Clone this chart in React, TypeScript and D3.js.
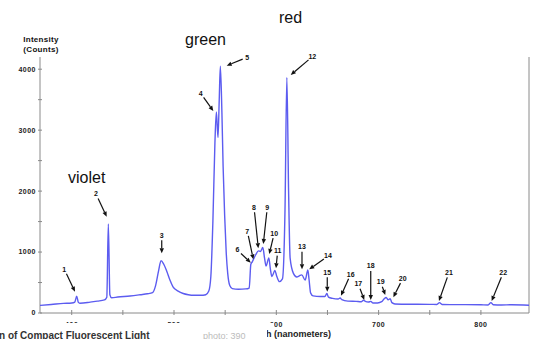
import React from 'react';
import * as d3 from 'd3';

// spectrum (nm, counts)
const wavelength = [
  369, 380, 392, 400, 403, 404.9, 406.5, 408, 418, 425, 432, 434.3, 435.8, 437.3, 439, 445, 457, 467, 474,
  479, 482, 485, 487.3, 490, 493, 496, 499, 504, 509, 514, 519, 526, 531, 534, 536, 538, 540, 541.4, 543,
  544.2, 545.3, 546.8, 548, 549.5, 551, 552.5, 554.5, 557, 563, 570, 573.5, 575.1, 576.5, 578.2, 580, 582.5,
  584.5, 586.8, 588.5, 590, 592.7, 594.2, 595.6, 597, 598.5, 600.5, 603, 606, 608.5, 610.3, 612, 613.5,
  616.7, 620, 622.5, 624.9, 628.2, 630.8, 632, 633.5, 636, 643, 647.5, 649.4, 651, 655, 660.4, 662.4, 664,
  670, 678, 683, 685.2, 687, 690, 692.4, 694.5, 699, 703, 705.5, 707.4, 709.3, 711.3, 713, 716, 730, 750,
  757, 759.5, 762, 770, 785, 800, 807, 809.8, 812, 820, 830, 847,
];
const intensity = [
  125, 140, 158, 165, 180, 275, 175, 160, 178, 195, 215, 260, 1460, 300, 250, 262, 280, 300, 315,
  335, 450, 700, 860, 800, 680, 540, 430, 360, 320, 300, 290, 290, 300, 360, 600, 1500, 2800, 3300, 2880,
  3500, 4050, 3300, 2400, 1600, 1000, 650, 450, 400, 390, 395, 410, 800, 840, 900, 960, 1020,
  1010, 1075, 900, 770, 905, 720, 600, 640, 700, 600, 515, 560, 1700, 3865, 2000, 900,
  650, 590, 610, 625, 540, 705, 550, 330, 280, 270, 270, 320, 260, 240, 230, 245, 220,
  195, 190, 185, 210, 190, 180, 190, 165, 165, 185, 235, 255, 215, 235, 170, 148, 143, 142,
  140, 170, 140, 138, 138, 135, 132, 170, 135, 132, 135, 128,
];

// numbered callouts: arrow tip in data units
const peakIds = ['1', '2', '3', '4', '5', '6', '7', '8', '9', '10', '11', '12', '13', '14', '15', '16', '17', '18', '19', '20', '21', '22'];
const peakNm = [403.2, 434.2, 488, 538.4, 551.5, 575, 577.5, 582.4, 587.3, 593.1, 599.7, 614.1, 625.1, 632.2, 649.8, 663.2, 686, 692.3, 706.5, 714.4, 759, 810.5];
const peakCounts = [350, 1580, 980, 3315, 4058, 825, 880, 1062, 1132, 968, 734, 3906, 717, 717, 350, 284, 213, 213, 295, 258, 197, 197];
// label offset from the arrow tip, px
const labelDx = [-10.7, -10.7, 0, -12.6, 20.6, -13.4, -6, -4.3, 4, 5, 1.7, 21.6, 0, 18.7, 0, 9.7, -6, 0, -4.6, 9.4, 10, 11.6];
const labelDy = [-22.4, -22.7, -18, -17.7, -8.4, -12.7, -28.3, -41, -36.7, -20.7, -17.6, -18.3, -22.6, -13.3, -19.4, -21.4, -16, -34, -13, -18.6, -28.3, -28.3];

const xTicks = [400, 500, 600, 700, 800];
const yTicks = [0, 1000, 2000, 3000, 4000];

const colourNames = ['violet', 'green', 'red'];

const W = 537;
const H = 339;
const font = 'Liberation Sans, Arial, Helvetica, sans-serif';

export default function App() {
  const x = d3.scaleLinear().domain([369, 847]).range([40, 529]);
  const y = d3.scaleLinear().domain([0, 4200]).range([313, 57]);

  const pts = wavelength.map((w, i) => [w, intensity[i]] as [number, number]);
  const line = d3.line<[number, number]>()
    .x(d => x(d[0]))
    .y(d => y(d[1]))
    .curve(d3.curveMonotoneX);

  const minorX = d3.range(400, 847, 50);
  const minorY = d3.range(0, 4201, 500);

  const callouts = peakIds.map((id, i) => {
    const tx = x(peakNm[i]);
    const ty = y(peakCounts[i]);
    const lx = tx + labelDx[i];
    const ly = ty + labelDy[i];
    const dx = tx - lx;
    const dy = ty - ly;
    const len = Math.hypot(dx, dy);
    const ux = dx / len;
    const uy = dy / len;
    const sx = lx + ux * 5;
    const sy = ly + uy * 5;
    const ah = 5, aw = 2.2;
    const bx = tx - ux * ah;
    const by = ty - uy * ah;
    const head = `${tx},${ty} ${bx - uy * aw},${by + ux * aw} ${bx + uy * aw},${by - ux * aw}`;
    return { id, lx, ly, sx, sy, bx, by, head };
  });

  return (
    <svg width={W} height={H} style={{ position: 'absolute', left: 0, top: 0, background: '#fff' }} fontFamily={font}>
      {/* frame */}
      <line x1={40} x2={40} y1={57} y2={313} stroke="#8a8a8a" />
      <line x1={529} x2={529} y1={57} y2={313} stroke="#8a8a8a" />
      <line x1={40} x2={529} y1={313} y2={313} stroke="#8a8a8a" />

      {minorY.map(v => (
        <line key={'yt' + v} x1={38} x2={42} y1={y(v)} y2={y(v)} stroke="#8a8a8a" />
      ))}
      {yTicks.map(v => (
        <text key={'yl' + v} x={36} y={y(v)} dy="0.35em" textAnchor="end" fontSize={7} fontWeight="bold"
          letterSpacing={0.5} fill="#222">{v}</text>
      ))}
      {minorX.map(v => (
        <line key={'xt' + v} x1={x(v)} x2={x(v)} y1={310} y2={315} stroke="#8a8a8a" />
      ))}
      {xTicks.map(v => (
        <text key={'xl' + v} x={x(v)} y={326.5} textAnchor="middle" fontSize={7} fontWeight="bold"
          letterSpacing={0.5} fill="#222">{v}</text>
      ))}

      <text x={41} y={42} textAnchor="middle" fontSize={8} fontWeight="bold" letterSpacing={0.3} fill="#111">Intensity</text>
      <text x={41} y={52} textAnchor="middle" fontSize={8} fontWeight="bold" letterSpacing={0.3} fill="#111">(Counts)</text>

      <path d={line(pts) ?? ''} fill="none" stroke="#5c5cf0" strokeWidth={1.4} strokeLinejoin="round" />

      {callouts.map(c => (
        <g key={'c' + c.id}>
          <line x1={c.sx} y1={c.sy} x2={c.bx} y2={c.by} stroke="#111" strokeWidth={1.2} />
          <polygon points={c.head} fill="#111" />
          <text x={c.lx} y={c.ly} dy="0.35em" textAnchor="middle" fontSize={7} fontWeight="bold" fill="#111">{c.id}</text>
        </g>
      ))}

      <text x={68} y={183} fontSize={16} fill="#111">{colourNames[0]}</text>
      <text x={185} y={45} fontSize={16} fill="#111">{colourNames[1]}</text>
      <text x={279} y={23} fontSize={16} fill="#111">{colourNames[2]}</text>

      {/* overlapping caption strip from the source screenshot */}
      <text x={331} y={337} textAnchor="end" fontSize={9} fontWeight="bold" fill="#222">h (nanometers)</text>
      <path d="M0,323 H274 V328 H267 V339 H0 Z" fill="#fff" />
      <text x={-1} y={339} fontSize={10} fontWeight="bold" fill="#333">n of Compact Fluorescent Light</text>
      <text x={203} y={339} fontSize={9} fill="#bbb">photo: 390</text>
    </svg>
  );
}
